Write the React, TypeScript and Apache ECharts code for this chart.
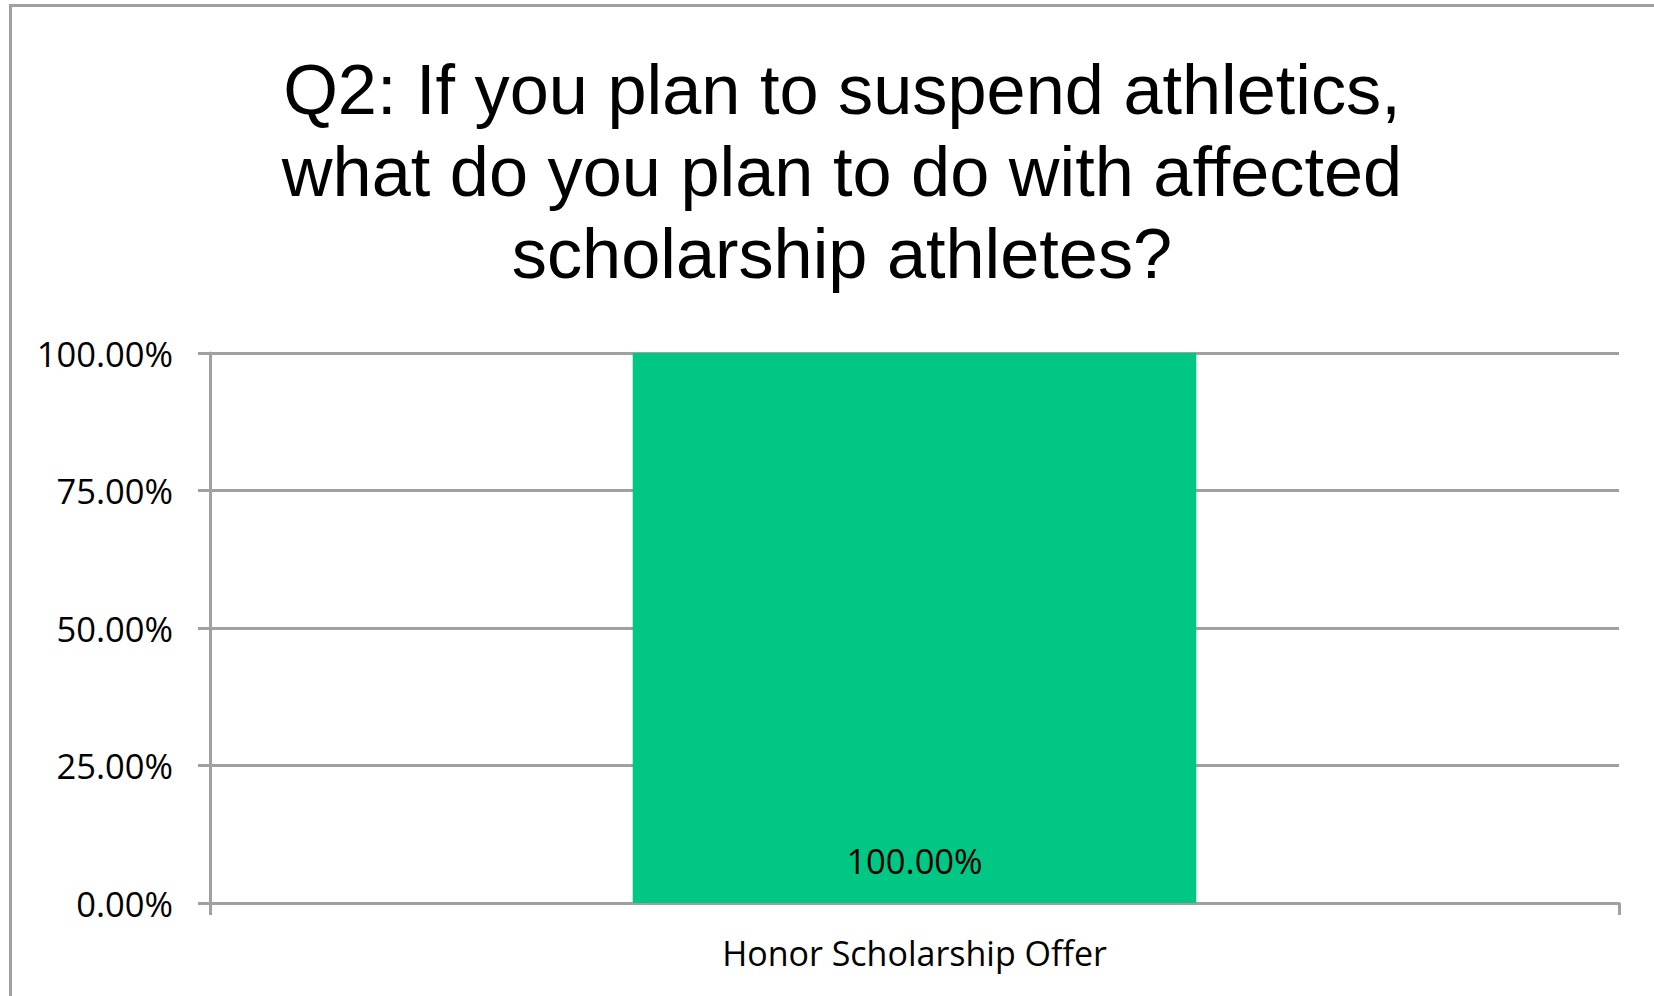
import React, { useEffect, useRef } from "react";
import * as echarts from "echarts";

const titleLines = [
  "Q2: If you plan to suspend athletics,",
  "what do you plan to do with affected",
  "scholarship athletes?",
];
const categories = ["Honor Scholarship Offer"];
const values = [1.0];
const yTicks = [0, 0.25, 0.5, 0.75, 1.0];

const fmtPct = (v: number) => (v * 100).toFixed(2) + "%";

export default function App() {
  const ref = useRef<HTMLDivElement>(null);
  useEffect(() => {
    document.body.style.margin = "0";
    const chart = echarts.init(ref.current!, null, { renderer: "svg" });
    const grey = "#A0A0A0";
    chart.setOption({
      animation: false,
      backgroundColor: "#ffffff",
      graphic: [
        {
          type: "rect",
          shape: { x: 10.5, y: 5.5, width: 1700, height: 1100 },
          style: { fill: "none", stroke: grey, lineWidth: 3 },
          z: 100,
        },
        {
          type: "text",
          x: 842,
          y: 48,
          style: {
            text: titleLines.join("\n"),
            textAlign: "center",
            textVerticalAlign: "top",
            fontFamily: "Liberation Sans",
            fontSize: 70.3,
            lineHeight: 82,
            fill: "#000000",
          },
        },
      ],
      grid: { left: 210, right: 35, top: 353, bottom: 93, containLabel: false },
      xAxis: {
        type: "category",
        data: categories,
        axisLine: { show: true, lineStyle: { color: grey, width: 3 } },
        axisTick: { show: true, length: 12, alignWithLabel: false, lineStyle: { color: grey, width: 3 } },
        axisLabel: {
          margin: 33,
          fontFamily: "Open Sans",
          fontSize: 34,
          color: "#000000",
        },
      },
      yAxis: {
        type: "value",
        min: yTicks[0],
        max: yTicks[yTicks.length - 1],
        interval: 0.25,
        axisLine: { show: true, lineStyle: { color: grey, width: 3 } },
        axisTick: { show: true, length: 12, lineStyle: { color: grey, width: 3 } },
        splitLine: { show: true, lineStyle: { color: grey, width: 3 } },
        axisLabel: {
          margin: 37,
          fontFamily: "Open Sans",
          fontSize: 34.5,
          color: "#000000",
          formatter: (v: number) => fmtPct(v),
        },
      },
      series: [
        {
          type: "bar",
          data: values,
          barWidth: "40%",
          itemStyle: { color: "#00C784" },
          label: {
            show: true,
            position: "insideBottom",
            distance: 25,
            fontFamily: "Open Sans",
            fontSize: 34.5,
            color: "#000000",
            formatter: (p: any) => fmtPct(p.value),
          },
        },
      ],
    });
    return () => chart.dispose();
  }, []);
  return <div ref={ref} style={{ width: 1654, height: 996 }} />;
}
